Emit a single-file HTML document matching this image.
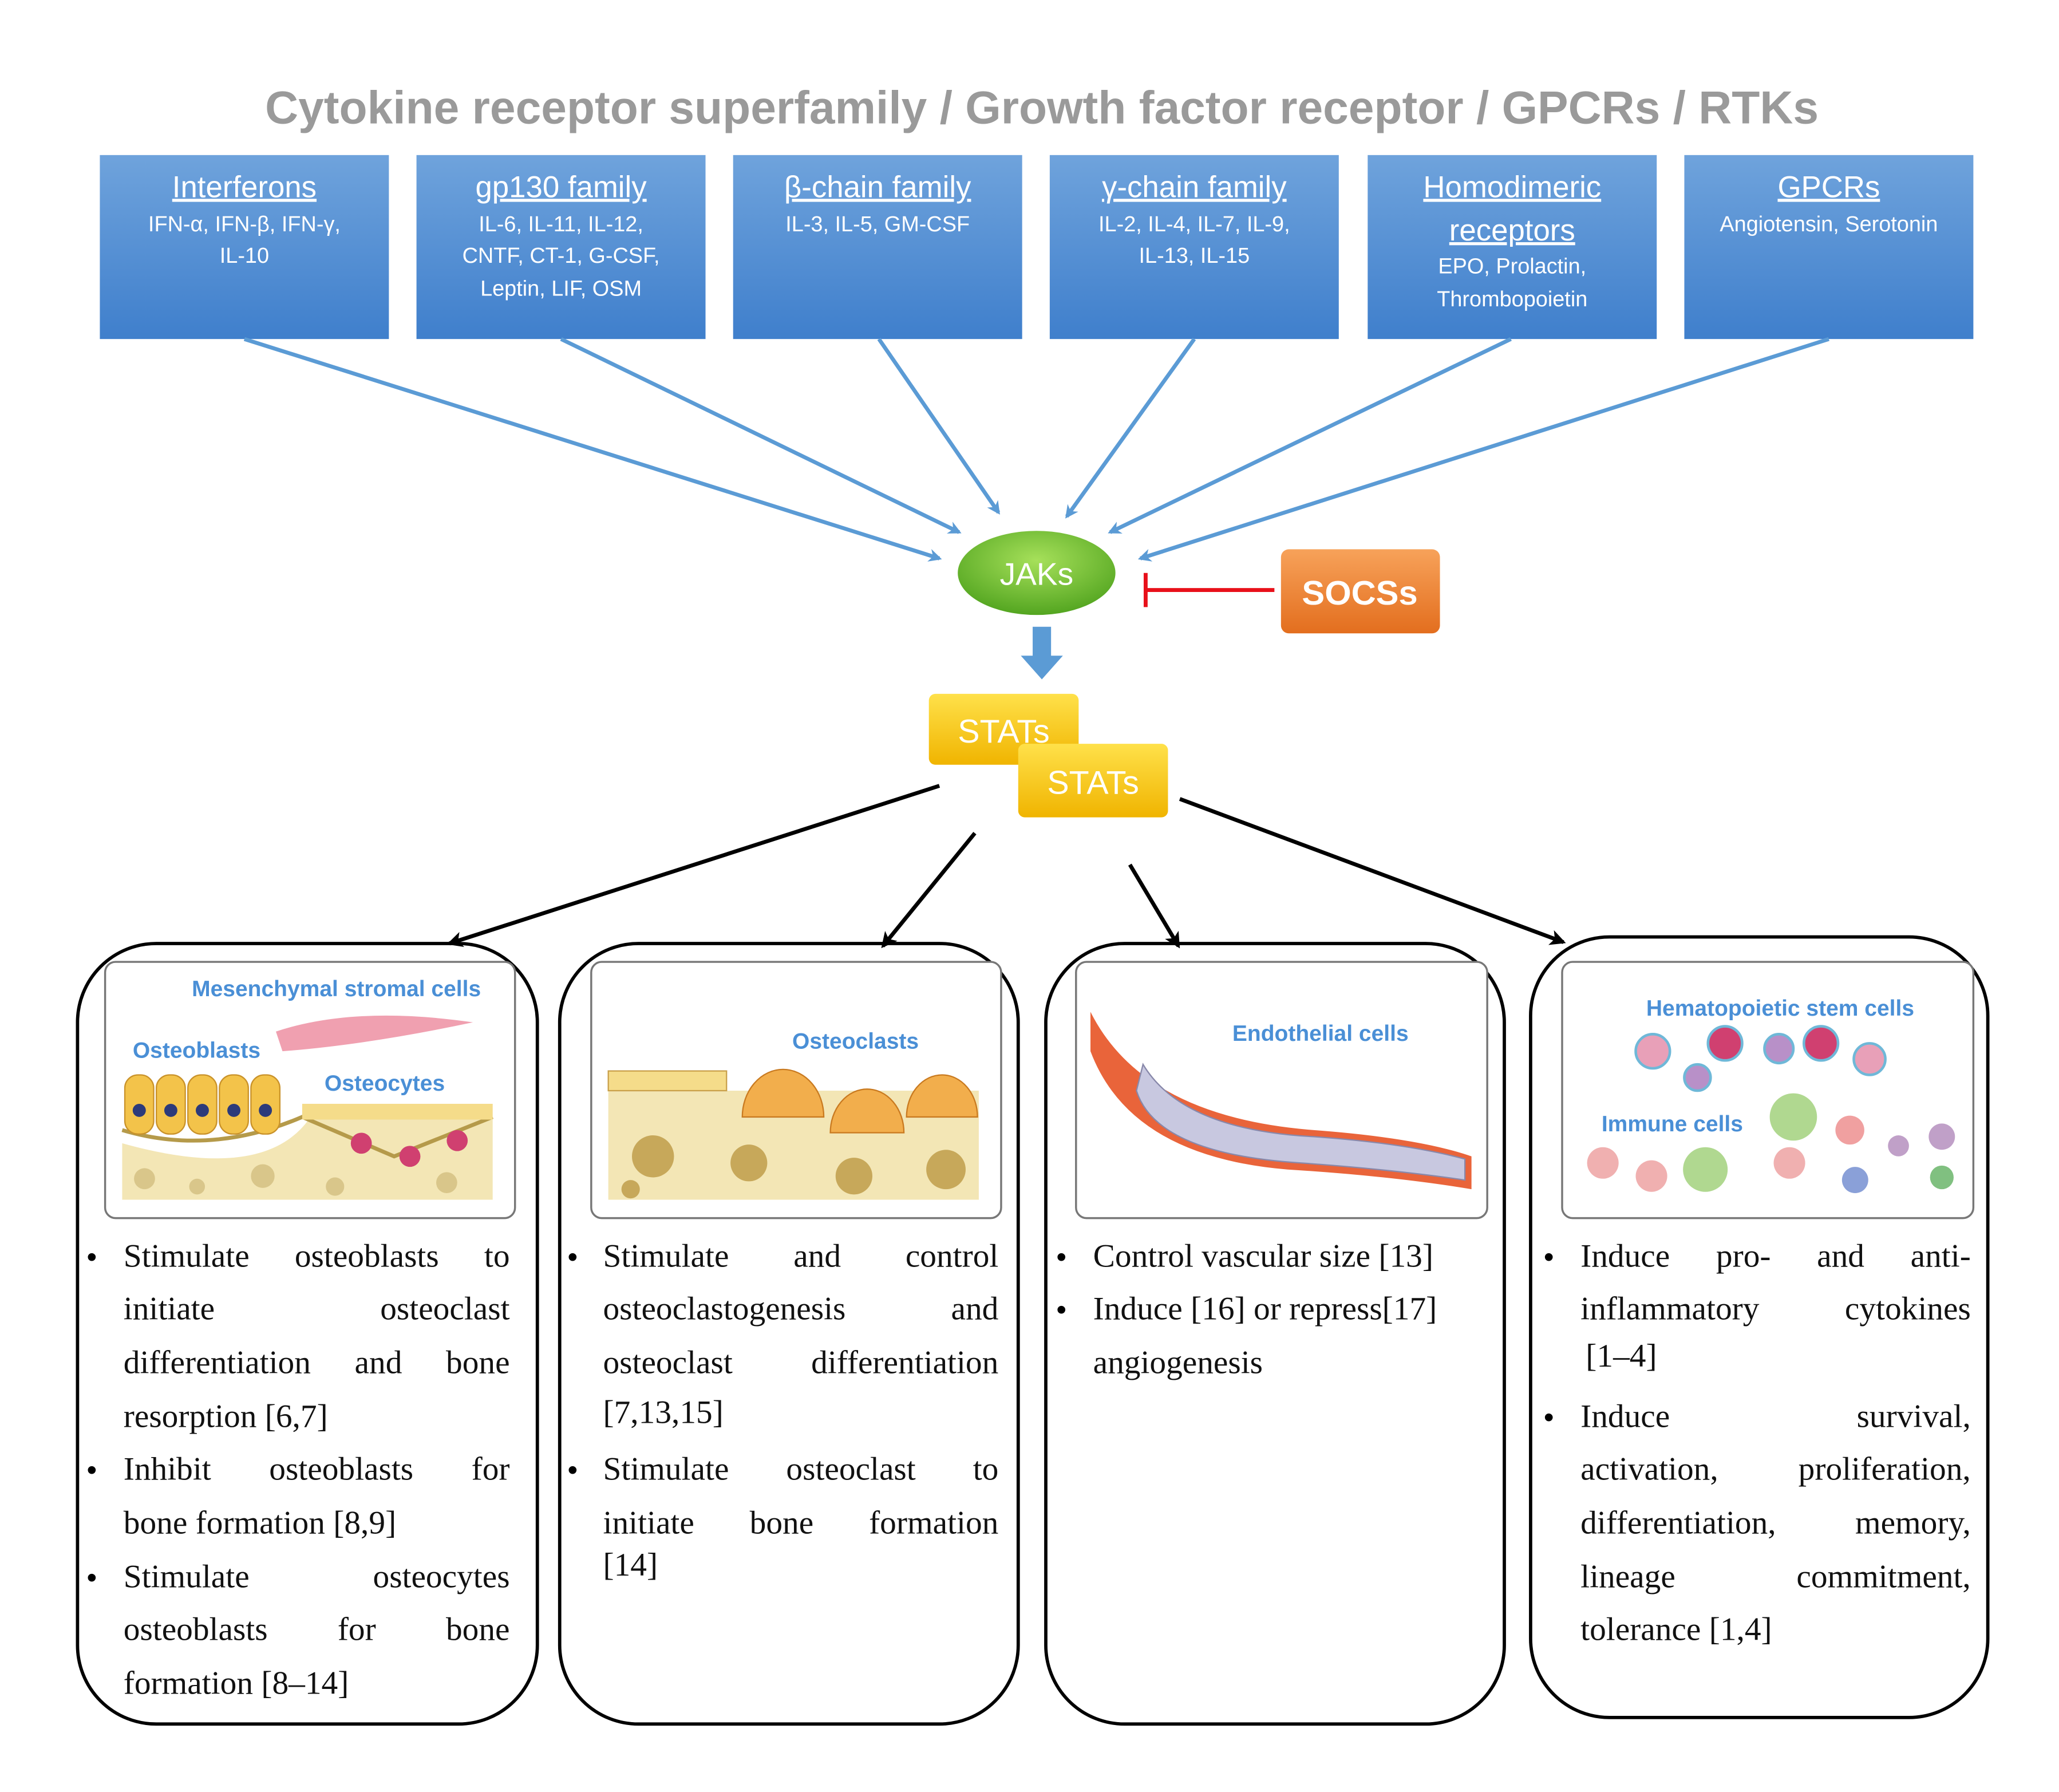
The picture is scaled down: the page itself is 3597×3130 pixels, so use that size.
<!DOCTYPE html>
<html><head><meta charset="utf-8">
<style>
html,body{margin:0;padding:0;background:#fff;}
body{width:3597px;height:3130px;overflow:hidden;position:relative;}
#c{position:absolute;left:0;top:0;width:1560px;height:1358px;transform:scale(2.2952);transform-origin:0 0;}
#c svg{position:absolute;left:0;top:0;}
.l{position:absolute;font-family:"Liberation Serif",serif;font-size:25px;line-height:30px;height:30px;white-space:nowrap;color:#111;}
.j{text-align:justify;text-align-last:justify;white-space:normal;}
.b{position:absolute;font-family:"Liberation Sans",sans-serif;font-size:22px;line-height:30px;}
</style></head><body>
<div id="c">
<svg width="1560" height="1358" viewBox="0 0 1560 1358" xmlns="http://www.w3.org/2000/svg">
<defs>
<linearGradient id="bl" x1="0" y1="0" x2="0" y2="1"><stop offset="0" stop-color="#6fa3dc"/><stop offset="1" stop-color="#3f7fcc"/></linearGradient>
<radialGradient id="gr" cx="0.5" cy="0.35" r="0.7"><stop offset="0" stop-color="#a6e05a"/><stop offset="1" stop-color="#4da11c"/></radialGradient>
<linearGradient id="or" x1="0" y1="0" x2="0" y2="1"><stop offset="0" stop-color="#f7a25a"/><stop offset="1" stop-color="#e36e1e"/></linearGradient>
<linearGradient id="ye" x1="0" y1="0" x2="0" y2="1"><stop offset="0" stop-color="#ffe14a"/><stop offset="1" stop-color="#f0b400"/></linearGradient>
<marker id="ab" markerWidth="10" markerHeight="10" refX="8" refY="5" orient="auto" markerUnits="userSpaceOnUse"><path d="M0,0 L10,5 L0,10 L3,5 z" fill="#5b9bd5"/></marker>
<marker id="ak" markerWidth="12" markerHeight="12" refX="10" refY="6" orient="auto" markerUnits="userSpaceOnUse"><path d="M0,0 L12,6 L0,12 L3,6 z" fill="#000"/></marker>
</defs>
<text x="793" y="94" text-anchor="middle" font-family="Liberation Sans,sans-serif" font-weight="bold" font-size="35" fill="#9a9a9a">Cytokine receptor superfamily / Growth factor receptor / GPCRs / RTKs</text>
<g font-family="Liberation Sans,sans-serif" fill="#fff" text-anchor="middle">
<rect x="76" y="118" width="220" height="140" fill="url(#bl)"/>
<rect x="317" y="118" width="220" height="140" fill="url(#bl)"/>
<rect x="558" y="118" width="220" height="140" fill="url(#bl)"/>
<rect x="799" y="118" width="220" height="140" fill="url(#bl)"/>
<rect x="1041" y="118" width="220" height="140" fill="url(#bl)"/>
<rect x="1282" y="118" width="220" height="140" fill="url(#bl)"/>
<g font-size="23" text-decoration="underline">
<text x="186" y="150">Interferons</text><text x="427" y="150">gp130 family</text><text x="668" y="150">β-chain family</text><text x="909" y="150">γ-chain family</text><text x="1151" y="150">Homodimeric</text><text x="1151" y="183">receptors</text><text x="1392" y="150">GPCRs</text>
</g>
<g font-size="16.5">
<text x="186" y="176">IFN-α, IFN-β, IFN-γ,</text><text x="186" y="200">IL-10</text>
<text x="427" y="176">IL-6, IL-11, IL-12,</text><text x="427" y="200">CNTF, CT-1, G-CSF,</text><text x="427" y="225">Leptin, LIF, OSM</text>
<text x="668" y="176">IL-3, IL-5, GM-CSF</text>
<text x="909" y="176">IL-2, IL-4, IL-7, IL-9,</text><text x="909" y="200">IL-13, IL-15</text>
<text x="1151" y="208">EPO, Prolactin,</text><text x="1151" y="233">Thrombopoietin</text>
<text x="1392" y="176">Angiotensin, Serotonin</text>
</g></g>
<g stroke="#5b9bd5" stroke-width="3" marker-end="url(#ab)">
<line x1="186" y1="258" x2="715" y2="425"/><line x1="427" y1="258" x2="730" y2="405"/><line x1="669" y1="258" x2="760" y2="390"/><line x1="909" y1="258" x2="812" y2="393"/><line x1="1150" y1="258" x2="845" y2="405"/><line x1="1392" y1="258" x2="868" y2="425"/>
</g>
<ellipse cx="789" cy="436" rx="60" ry="32" fill="url(#gr)"/>
<text x="789" y="445" text-anchor="middle" font-family="Liberation Sans,sans-serif" font-size="24" fill="#fff">JAKs</text>
<line x1="970" y1="449" x2="872" y2="449" stroke="#e8101a" stroke-width="3"/><line x1="872" y1="436" x2="872" y2="462" stroke="#e8101a" stroke-width="3"/>
<rect x="975" y="418" width="121" height="64" rx="6" fill="url(#or)"/>
<text x="1035" y="460" text-anchor="middle" font-family="Liberation Sans,sans-serif" font-weight="bold" font-size="26" fill="#fff">SOCSs</text>
<path d="M786,477 h14 v22 h9 l-16,18 l-16,-18 h9 z" fill="#5b9bd5"/>
<rect x="707" y="528" width="114" height="54" rx="5" fill="url(#ye)"/>
<text x="764" y="565" text-anchor="middle" font-family="Liberation Sans,sans-serif" font-size="25" fill="#fff">STATs</text>
<rect x="775" y="566" width="114" height="56" rx="5" fill="url(#ye)"/>
<text x="832" y="604" text-anchor="middle" font-family="Liberation Sans,sans-serif" font-size="25" fill="#fff">STATs</text>
<g stroke="#000" stroke-width="3" marker-end="url(#ak)">
<line x1="715" y1="598" x2="342" y2="718"/><line x1="742" y1="634" x2="672" y2="720"/><line x1="860" y1="658" x2="897" y2="720"/><line x1="898" y1="608" x2="1190" y2="717"/>
</g>
<g fill="none" stroke="#000" stroke-width="2.5">
<rect x="59" y="718" width="350" height="594" rx="60"/><rect x="426" y="718" width="349" height="594" rx="60"/><rect x="796" y="718" width="349" height="594" rx="60"/><rect x="1165" y="713" width="348" height="594" rx="60"/>
</g>
<g fill="#fff" stroke="#777" stroke-width="1.5">
<rect x="80" y="732" width="312" height="195" rx="8"/><rect x="450" y="732" width="312" height="195" rx="8"/><rect x="819" y="732" width="313" height="195" rx="8"/><rect x="1189" y="732" width="313" height="195" rx="8"/>
</g>
<path d="M93,870 Q200,900 235,852 L375,852 L375,913 L93,913 z" fill="#f3e6b5"/>
<path d="M93,860 Q160,880 230,850 L300,880 L375,850" stroke="#b59a4a" stroke-width="3" fill="none"/>
<g fill="#f3c34a" stroke="#c9922a">
<rect x="95" y="818" width="22" height="45" rx="10"/><rect x="119" y="818" width="22" height="45" rx="10"/><rect x="143" y="818" width="22" height="45" rx="10"/><rect x="167" y="818" width="22" height="45" rx="10"/><rect x="191" y="818" width="22" height="45" rx="10"/>
</g>
<g fill="#2c3a7a"><circle cx="106" cy="845" r="5"/><circle cx="130" cy="845" r="5"/><circle cx="154" cy="845" r="5"/><circle cx="178" cy="845" r="5"/><circle cx="202" cy="845" r="5"/></g>
<rect x="230" y="840" width="145" height="12" fill="#f5dc8a"/>
<g fill="#d04070"><circle cx="275" cy="870" r="8"/><circle cx="312" cy="880" r="8"/><circle cx="348" cy="868" r="8"/></g>
<g fill="#d9c68a"><circle cx="110" cy="897" r="8"/><circle cx="150" cy="903" r="6"/><circle cx="200" cy="895" r="9"/><circle cx="255" cy="903" r="7"/><circle cx="340" cy="900" r="8"/></g>
<path d="M210,785 Q270,765 360,778 Q280,795 215,800 z" fill="#f0a0b0"/>
<g font-family="Liberation Sans,sans-serif" font-weight="bold" font-size="17" fill="#4a8fd6">
<text x="146" y="758">Mesenchymal stromal cells</text><text x="101" y="805">Osteoblasts</text><text x="247" y="830">Osteocytes</text>
<text x="603" y="798">Osteoclasts</text><text x="938" y="792">Endothelial cells</text><text x="1253" y="773">Hematopoietic stem cells</text><text x="1219" y="861">Immune cells</text>
</g>
<rect x="463" y="830" width="282" height="83" fill="#f3e6b5"/>
<rect x="463" y="815" width="90" height="15" fill="#f5dc8a" stroke="#c9a04a"/>
<g fill="#f2ae4c" stroke="#c97a20"><path d="M565,850 A30,35 0 0 1 627,850 z"/><path d="M632,862 A27,32 0 0 1 688,862 z"/><path d="M690,850 A27,32 0 0 1 744,850 z"/></g>
<g fill="#c7a85a"><circle cx="497" cy="880" r="16"/><circle cx="570" cy="885" r="14"/><circle cx="650" cy="895" r="14"/><circle cx="720" cy="890" r="15"/><circle cx="480" cy="905" r="7"/></g>
<path d="M830,770 Q870,850 1000,860 Q1080,866 1120,880 L1120,905 Q1060,895 980,890 Q860,880 830,800 z" fill="#e9643a"/>
<path d="M870,810 Q900,860 1000,865 Q1070,870 1115,882 L1115,898 Q1060,890 990,885 Q880,878 865,830 z" fill="#c8c8e0" stroke="#8888aa"/>
<g stroke="#6fb8d8" stroke-width="2">
<circle cx="1258" cy="800" r="13" fill="#e8a0b8"/><circle cx="1313" cy="794" r="13" fill="#d04070"/><circle cx="1354" cy="798" r="11" fill="#b890c8"/><circle cx="1386" cy="794" r="13" fill="#d04070"/><circle cx="1423" cy="806" r="12" fill="#e8a0b8"/><circle cx="1292" cy="820" r="10" fill="#b890c8"/>
</g>
<g><circle cx="1365" cy="850" r="18" fill="#b0d890"/><circle cx="1408" cy="860" r="11" fill="#f0a0a0"/><circle cx="1478" cy="865" r="10" fill="#c0a0c8"/><circle cx="1445" cy="872" r="8" fill="#c0a0c8"/><circle cx="1220" cy="885" r="12" fill="#f0b0b0"/><circle cx="1257" cy="895" r="12" fill="#f0b0b0"/><circle cx="1298" cy="890" r="17" fill="#b0d890"/><circle cx="1362" cy="885" r="12" fill="#f0b0b0"/><circle cx="1412" cy="898" r="10" fill="#8aa0d8"/><circle cx="1478" cy="896" r="9" fill="#80c080"/></g>
</svg>
<div class="b" style="left:66px;top:942px">•</div><div class="b" style="left:66px;top:1104px">•</div><div class="b" style="left:66px;top:1186px">•</div>
<div class="l j" style="left:94px;top:942px;width:294px">Stimulate osteoblasts to</div>
<div class="l j" style="left:94px;top:982px;width:294px">initiate osteoclast</div>
<div class="l j" style="left:94px;top:1023px;width:294px">differentiation and bone</div>
<div class="l" style="left:94px;top:1064px">resorption [6,7]</div>
<div class="l j" style="left:94px;top:1104px;width:294px">Inhibit osteoblasts for</div>
<div class="l" style="left:94px;top:1145px">bone formation [8,9]</div>
<div class="l j" style="left:94px;top:1186px;width:294px">Stimulate osteocytes</div>
<div class="l j" style="left:94px;top:1226px;width:294px">osteoblasts for bone</div>
<div class="l" style="left:94px;top:1267px">formation [8–14]</div>

<div class="b" style="left:432px;top:942px">•</div><div class="b" style="left:432px;top:1104px">•</div>
<div class="l j" style="left:459px;top:942px;width:301px">Stimulate and control</div>
<div class="l j" style="left:459px;top:982px;width:301px">osteoclastogenesis and</div>
<div class="l j" style="left:459px;top:1023px;width:301px">osteoclast differentiation</div>
<div class="l" style="left:459px;top:1061px">[7,13,15]</div>
<div class="l j" style="left:459px;top:1104px;width:301px">Stimulate osteoclast to</div>
<div class="l j" style="left:459px;top:1145px;width:301px">initiate bone formation</div>
<div class="l" style="left:459px;top:1177px">[14]</div>

<div class="b" style="left:804px;top:942px">•</div><div class="b" style="left:804px;top:982px">•</div>
<div class="l" style="left:832px;top:942px">Control vascular size [13]</div>
<div class="l" style="left:832px;top:982px">Induce [16] or repress[17]</div>
<div class="l" style="left:832px;top:1023px">angiogenesis</div>

<div class="b" style="left:1175px;top:942px">•</div><div class="b" style="left:1175px;top:1064px">•</div>
<div class="l j" style="left:1203px;top:942px;width:297px">Induce pro- and anti-</div>
<div class="l j" style="left:1203px;top:982px;width:297px">inflammatory cytokines</div>
<div class="l" style="left:1207px;top:1018px">[1–4]</div>
<div class="l j" style="left:1203px;top:1064px;width:297px">Induce survival,</div>
<div class="l j" style="left:1203px;top:1104px;width:297px">activation, proliferation,</div>
<div class="l j" style="left:1203px;top:1145px;width:297px">differentiation, memory,</div>
<div class="l j" style="left:1203px;top:1186px;width:297px">lineage commitment,</div>
<div class="l" style="left:1203px;top:1226px">tolerance [1,4]</div>
</div>
</body></html>
